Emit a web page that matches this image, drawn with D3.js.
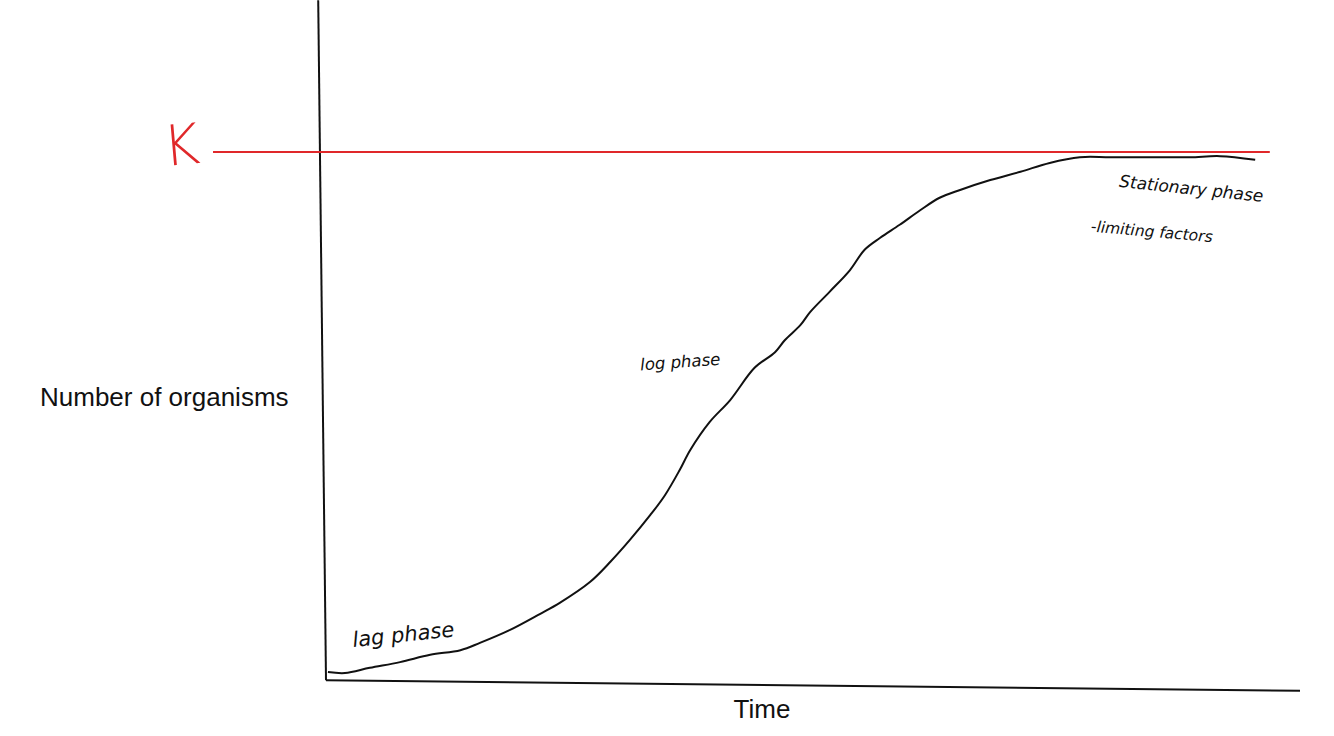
<!DOCTYPE html>
<html><head><meta charset="utf-8">
<script src="https://cdn.jsdelivr.net/npm/d3@7"></script>
<style>body{margin:0;background:#fff}svg{display:block}</style>
</head><body>
<script>
// Data (time 0..100, number of organisms 0..100 where 100 = K)
const timeVals = [0.2,1.95,4.5,7.6,10.7,13.8,15.8,18.9,22.0,24.0,27.1,29.2,31.2,33.3,34.8,36.3,37.4,39.4,41.5,44.0,46.1,47.1,48.7,49.7,51.7,53.8,55.3,56.9,58.9,61.0,63.0,65.1,68.2,71.3,74.3,77.4,80.5,84.6,88.7,91.8,95.4];
const countVals = [0,-0.2,0.8,1.9,3.3,4.2,5.6,8.1,11.2,13.3,17.3,21.2,25.4,30.2,34.0,38.8,42.7,48.1,52.3,58.5,61.5,63.8,66.7,69.2,73.1,77.3,81.2,83.5,86.0,88.8,91.2,92.7,94.6,96.2,97.9,99.0,99.0,99.0,99.0,99.2,98.5];
const kValue = 100;
const kExtent = [-11.6, 96.9];
const xAxisEnds = [[0,-1.6],[100,-3.6]];
const yAxisEnds = [[-0.8,129.2],[0,-1.6]];
const axisTitles = {x:"Time", y:"Number of organisms"};
const notes = [
  {text:"lag phase", t:2.8, n:4.8, rot:-6, size:21},
  {text:"log phase", t:32.3, n:58.0, rot:-4, size:16.5},
  {text:"Stationary phase", t:81.4, n:93.3, rot:6, size:17},
  {text:"-limiting factors", t:78.5, n:84.7, rot:5, size:15.5}
];

const W = 1334, H = 736;
const x = d3.scaleLinear().domain([0,100]).range([326,1300]);
const y = d3.scaleLinear().domain([0,100]).range([672,152]);

const svg = d3.select("body").append("svg").attr("width",W).attr("height",H);

const line = d3.line().x(d=>x(d[0])).y(d=>y(d[1]));

// axes
svg.append("path").attr("d", line(yAxisEnds)).attr("stroke","#111").attr("stroke-width",2).attr("fill","none");
svg.append("path").attr("d", line(xAxisEnds)).attr("stroke","#111").attr("stroke-width",2).attr("fill","none");

// K line
svg.append("path").attr("d", line([[kExtent[0],kValue],[kExtent[1],kValue]]))
  .attr("stroke","#e0282a").attr("stroke-width",2).attr("fill","none");
svg.append("text").attr("x", x(-16.7)).attr("y", y(kValue)+14)
  .attr("font-family","DejaVu Sans").attr("font-weight",200).attr("font-size",56)
  .attr("fill","#e0282a").attr("transform",`rotate(-5,${x(-16.7)},${y(kValue)})`).text("K");

// curve
const pts = timeVals.map((t,i)=>[t,countVals[i]]);
svg.append("path").attr("d", d3.line().x(d=>x(d[0])).y(d=>y(d[1])).curve(d3.curveCatmullRom)(pts))
  .attr("stroke","#111").attr("stroke-width",2).attr("fill","none");

// titles
svg.append("text").attr("x",40).attr("y",406).attr("font-family","Liberation Sans, Arial, sans-serif")
  .attr("font-size",26).attr("fill","#111").text(axisTitles.y);
svg.append("text").attr("x",762).attr("y",718).attr("text-anchor","middle")
  .attr("font-family","Liberation Sans, Arial, sans-serif").attr("font-size",26).attr("fill","#111").text(axisTitles.x);

// handwritten notes
notes.forEach(n=>{
  const px = x(n.t), py = y(n.n);
  svg.append("text").attr("x",px).attr("y",py)
    .attr("font-family","DejaVu Sans").attr("font-style","italic").attr("font-weight",200)
    .attr("font-size",n.size).attr("fill","#111")
    .attr("transform",`rotate(${n.rot},${px},${py})`).text(n.text);
});
</script>
</body></html>
